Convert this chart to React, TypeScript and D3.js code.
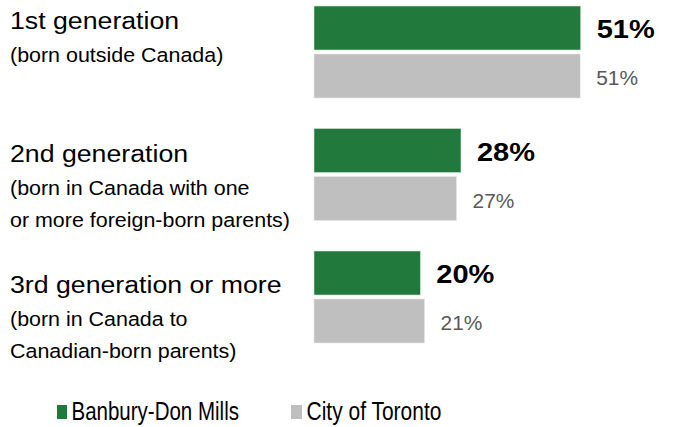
import React from "react";
import * as d3 from "d3";

const categories = ["1st generation", "2nd generation", "3rd generation or more"];
const subtitles = [
  ["(born outside Canada)"],
  ["(born in Canada with one", "or more foreign-born parents)"],
  ["(born in Canada to", "Canadian-born parents)"],
];
const seriesNames = ["Banbury-Don Mills", "City of Toronto"];
const banbury = [50.9, 28.05, 20.3];
const toronto = [50.8, 27.2, 21.1];
const banburyLabels = ["51%", "28%", "20%"];
const torontoLabels = ["51%", "27%", "21%"];

const W = 675;
const H = 427;
const GREEN = "#217a3b";
const GRAY = "#bfbfbf";
const FONT = "'Liberation Sans', Arial, Helvetica, sans-serif";

const sx = (x0: number, s: number) => `translate(${x0},0) scale(${s},1) translate(${-x0},0)`;

export default function App() {
  const x = d3.scaleLinear().domain([0, 100]).range([314, 314 + 524]);
  const y = d3.scaleBand<string>().domain(categories).range([6, 343]).paddingInner(0.249).paddingOuter(0);
  const sub = d3.scaleBand<string>().domain(seriesNames).range([0, y.bandwidth()]).paddingInner(0.0833);
  const titleOffsets = [23.3, 33.7, 42.3];

  return (
    <svg width={W} height={H} style={{ position: "absolute", left: 0, top: 0, background: "#fff" }} fontFamily={FONT}>
      <rect x={0} y={0} width={W} height={H} fill="#fff" />
      {categories.map((c, i) => {
        const y0 = y(c)!;
        const yg = y0 + sub(seriesNames[0])!;
        const yt = y0 + sub(seriesNames[1])!;
        const bw = sub.bandwidth();
        const tb = y0 + titleOffsets[i];
        const xb = x(banbury[i]) + 16;
        const xt = x(toronto[i]) + 16;
        return (
          <g key={c}>
            <text x={10} y={tb} fontSize={24.5} fill="#000" transform={sx(10, 1.09)}>{c}</text>
            {subtitles[i].map((s, j) => (
              <text key={j} x={10} y={tb + 33 + j * 32} fontSize={19.5} fill="#000" transform={sx(10, 1.1)}>{s}</text>
            ))}
            <rect x={x(0)} y={yg} width={x(banbury[i]) - x(0)} height={bw} fill={GREEN} stroke="#cfe3d4" strokeWidth={0.6} />
            <rect x={x(0)} y={yt} width={x(toronto[i]) - x(0)} height={bw} fill={GRAY} stroke="#e6e6e6" strokeWidth={0.6} />
            <text x={xb} y={yg + bw / 2 + 10.5} fontSize={25} fontWeight="bold" fill="#000" transform={sx(xb, 1.16)}>{banburyLabels[i]}</text>
            <text x={xt} y={yt + bw / 2 + 9.5} fontSize={20.5} fill="#595959" transform={sx(xt, 1.02)}>{torontoLabels[i]}</text>
          </g>
        );
      })}
      <g>
        <rect x={57} y={405} width={10} height={14} fill={GREEN} />
        <text x={71.5} y={420} fontSize={25} fill="#000" transform={sx(71.5, 0.82)}>{seriesNames[0]}</text>
        <rect x={291} y={405} width={11} height={14} fill={GRAY} />
        <text x={306.5} y={420} fontSize={25} fill="#000" transform={sx(306.5, 0.84)}>{seriesNames[1]}</text>
      </g>
    </svg>
  );
}
